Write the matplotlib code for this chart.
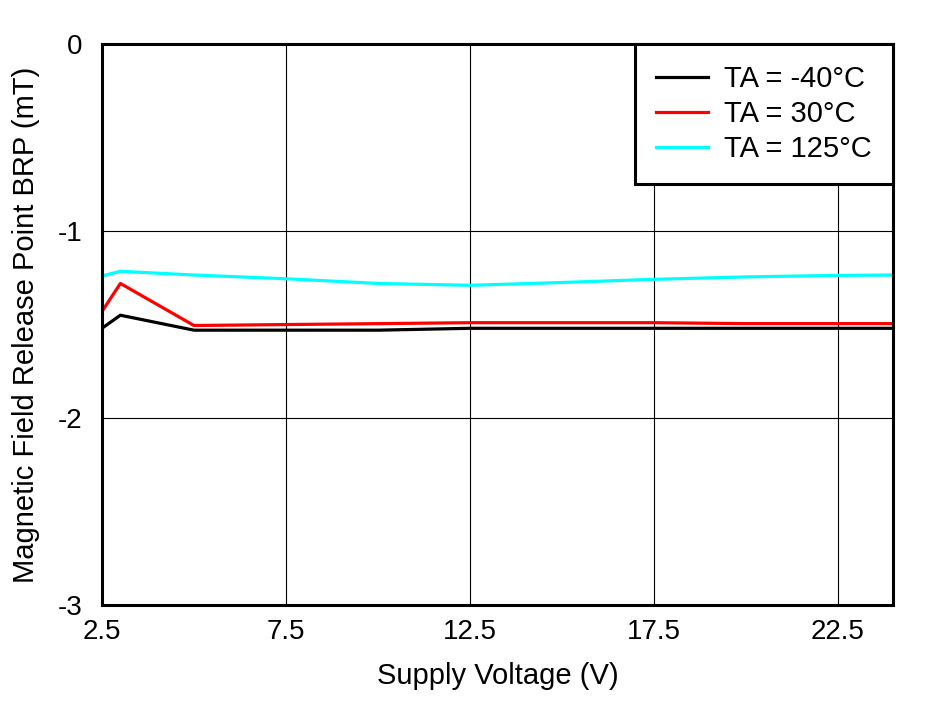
import matplotlib
matplotlib.use("Agg")
import matplotlib.pyplot as plt

plt.rcParams['font.family'] = ['Liberation Sans', 'DejaVu Sans']

voltage = [2.5, 3, 5, 7.5, 10, 12.5, 15, 17.5, 20, 22.5, 24]
brp_m40 = [-1.52, -1.45, -1.53, -1.53, -1.53, -1.52, -1.52, -1.52, -1.52, -1.52, -1.52]
brp_30 = [-1.43, -1.28, -1.505, -1.50, -1.495, -1.49, -1.49, -1.49, -1.495, -1.495, -1.495]
brp_125 = [-1.24, -1.215, -1.235, -1.255, -1.28, -1.29, -1.275, -1.258, -1.245, -1.237, -1.235]
labels = ['TA = -40°C', 'TA = 30°C', 'TA = 125°C']
colors = ['#000000', '#ff0000', '#00ffff']
xticks = [2.5, 7.5, 12.5, 17.5, 22.5]
yticks = [0, -1, -2, -3]

fig = plt.figure(figsize=(9.46, 7.01), dpi=100)
ax = fig.add_axes([0.1078, 0.137, 0.8362, 0.800])

for y, lab, c in zip([brp_m40, brp_30, brp_125], labels, colors):
    ax.plot(voltage, y, color=c, lw=2.3, label=lab)

ax.set_xlim(2.5, 24)
ax.set_ylim(-3, 0)
ax.set_xticks(xticks)
ax.set_xticklabels([str(t) for t in xticks])
ax.set_yticks(yticks)
ax.set_yticklabels([str(t) for t in yticks])
ax.grid(True, color='black', lw=0.8)
ax.tick_params(labelsize=20, length=0)
ax.tick_params(axis='x', pad=10)
ax.tick_params(axis='y', pad=14)
for s in ax.spines.values():
    s.set_linewidth(2.2)
ax.set_xlabel('Supply Voltage (V)', fontsize=21, labelpad=12)
ax.set_ylabel('Magnetic Field Release Point BRP (mT)', fontsize=21, labelpad=13)

leg = ax.legend(loc='upper right', fontsize=21, frameon=True, fancybox=False,
                borderaxespad=0, handlelength=1.8, handletextpad=0.55,
                labelspacing=0.24, borderpad=0.72)
leg.get_frame().set_edgecolor('black')
leg.get_frame().set_linewidth(2.2)
leg.get_frame().set_alpha(1)

fig.savefig('out.png', dpi=100)
